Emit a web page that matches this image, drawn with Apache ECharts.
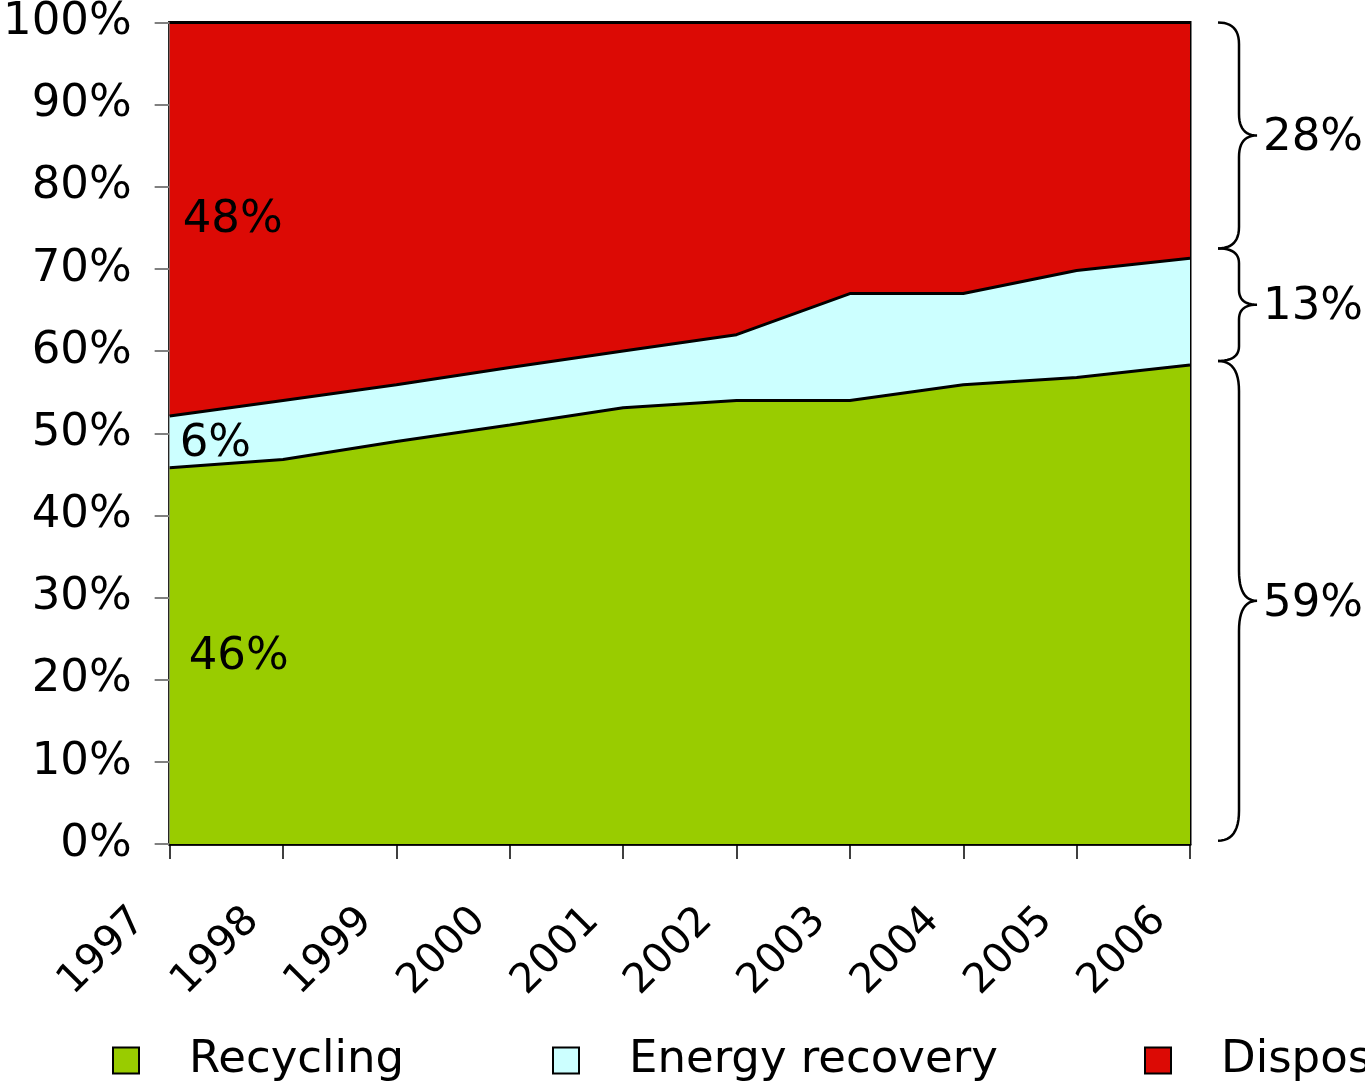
<!DOCTYPE html>
<html>
<head>
<meta charset="utf-8">
<script src="https://cdn.jsdelivr.net/npm/echarts@6/dist/echarts.min.js"></script>
<style>
html,body{margin:0;padding:0;background:#fff;}
#chart{width:1365px;height:1086px;}
</style>
</head>
<body>
<div id="chart"></div>
<script>
// ---- data ----
const years = ['1997','1998','1999','2000','2001','2002','2003','2004','2005','2006'];
const recycling = [45.8, 46.8, 49.0, 51.0, 53.1, 54.0, 54.0, 55.9, 56.8, 58.3];
const energyRecovery = [6.3, 7.2, 6.9, 7.0, 6.9, 8.0, 13.0, 11.1, 13.0, 13.0];
const disposal = [47.9, 46.0, 44.1, 42.0, 40.0, 38.0, 33.0, 33.0, 30.2, 28.7];
const seriesNames = ['Recycling', 'Energy recovery', 'Disposal'];
const yTicks = [0, 10, 20, 30, 40, 50, 60, 70, 80, 90, 100];
// annotations
const startLabels = ['46%', '6%', '48%'];          // 1997 shares
const startLabelValues = [22.7, 48.7, 75.9];       // vertical placement (value units)
const endLabels = ['28%', '13%', '59%'];           // 2006 shares (top to bottom)
const braceBounds = [100, 72.5, 58.8, 0.4];        // brace extents (value units)

const FONT = 'DejaVu Sans';
const colors = ['#99cc00', '#ccffff', '#dc0a05'];

const chart = echarts.init(document.getElementById('chart'), null, {renderer: 'canvas'});

function mkSeries(name, data, color) {
  return {
    name: name, type: 'line', stack: 'total', data: data,
    symbol: 'none', smooth: false,
    lineStyle: {color: '#000', width: 3},
    itemStyle: {color: color, borderColor: '#000', borderWidth: 2},
    areaStyle: {color: color, opacity: 1},
    emphasis: {disabled: true}
  };
}

function mkLegend(name, left) {
  return {
    data: [name], left: left, top: 1033, orient: 'horizontal',
    icon: 'rect', itemWidth: 26, itemHeight: 26,
    itemStyle: {borderColor: '#000', borderWidth: 2},
    textStyle: {fontFamily: FONT, fontSize: 45, color: '#000', lineHeight: 44, padding: [0,0,0,45]},
    selectedMode: false
  };
}

chart.setOption({
  animation: false,
  backgroundColor: '#fff',
  grid: {left: 168, top: 16, right: 175, bottom: 242, show: true, borderColor: '#000', borderWidth: 3, backgroundColor: 'transparent'},
  legend: [mkLegend(seriesNames[0], 107), mkLegend(seriesNames[1], 547), mkLegend(seriesNames[2], 1139)],
  xAxis: {
    type: 'category', data: years, boundaryGap: false,
    axisLine: {show: true, lineStyle: {color: '#000', width: 2.5}},
    axisTick: {show: true, length: 15, alignWithLabel: true, lineStyle: {color: '#000', width: 1.5}},
    axisLabel: {rotate: 45, margin: 40, padding: [0, 43, 0, 0], fontFamily: FONT, fontSize: 41, color: '#000', interval: 0},
    splitLine: {show: false}
  },
  yAxis: {
    type: 'value', min: yTicks[0], max: yTicks[yTicks.length-1], interval: 10,
    axisLine: {show: true, lineStyle: {color: '#808080', width: 2}},
    axisTick: {show: true, length: 15, lineStyle: {color: '#808080', width: 2}},
    axisLabel: {formatter: '{value}%', margin: 38, fontFamily: FONT, fontSize: 45, color: '#000'},
    splitLine: {show: false}
  },
  series: [
    mkSeries(seriesNames[0], recycling, colors[0]),
    mkSeries(seriesNames[1], energyRecovery, colors[1]),
    mkSeries(seriesNames[2], disposal, colors[2])
  ]
});

function px(xi, v) { return chart.convertToPixel({gridIndex: 0}, [xi, v]); }

function quad(p0, p1, p2, out) {
  for (let k = 1; k <= 12; k++) {
    const t = k / 12, u = 1 - t;
    out.push([u*u*p0[0] + 2*u*t*p1[0] + t*t*p2[0], u*u*p0[1] + 2*u*t*p1[1] + t*t*p2[1]]);
  }
}

const graphics = [];
// 1997 share labels
const startOffsets = [19, 10, 13];
startLabels.forEach(function (t, i) {
  const p = px(0, startLabelValues[i]);
  graphics.push({type: 'text', x: p[0] + startOffsets[i], y: p[1], z: 100,
    style: {text: t, fontFamily: FONT, fontSize: 45, fill: '#000', textVerticalAlign: 'middle', textAlign: 'left'}});
});
// braces with labels on right
const xEnd = px(years.length - 1, 0)[0];
for (let i = 0; i < 3; i++) {
  const y0 = px(0, braceBounds[i])[1];
  const y1 = px(0, braceBounds[i + 1])[1];
  const len = y1 - y0;
  const xL = xEnd + 28, xV = xEnd + 49, xP = xEnd + 67;
  const mid = (y0 + y1) / 2, r = Math.min(30, 0.06 * len + 8);
  const pts = [[xL, y0]];
  quad([xL, y0], [xV, y0], [xV, y0 + r], pts);
  pts.push([xV, mid - r]);
  quad([xV, mid - r], [xV, mid], [xP, mid], pts);
  quad([xP, mid], [xV, mid], [xV, mid + r], pts);
  pts.push([xV, y1 - r]);
  quad([xV, y1 - r], [xV, y1], [xL, y1], pts);
  graphics.push({type: 'polyline', shape: {points: pts}, z: 100,
    style: {fill: null, stroke: '#000', lineWidth: 2.5}});
  graphics.push({type: 'text', x: xP + 6, y: mid + 3, z: 100,
    style: {text: endLabels[i], fontFamily: FONT, fontSize: 45, fill: '#000', textVerticalAlign: 'middle', textAlign: 'left'}});
}
chart.setOption({graphic: graphics});
</script>
</body>
</html>
